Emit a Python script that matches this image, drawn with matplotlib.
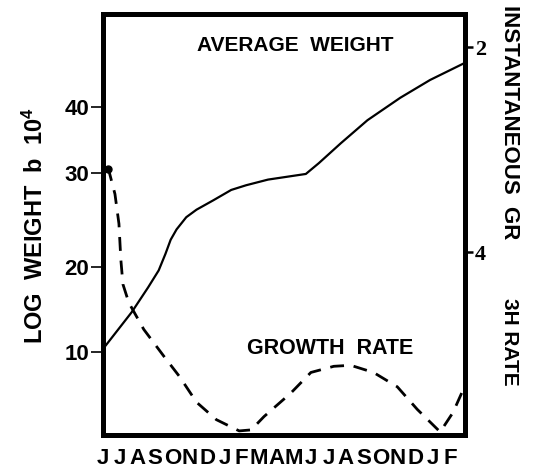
import matplotlib
matplotlib.use("Agg")
import matplotlib.pyplot as plt
import numpy as np

plt.rcParams['font.family'] = ['Liberation Sans', 'DejaVu Sans']
plt.rcParams['font.weight'] = 'bold'
plt.rcParams['mathtext.fontset'] = 'custom'
plt.rcParams['mathtext.bf'] = 'Liberation Sans:bold'
plt.rcParams['mathtext.rm'] = 'Liberation Sans:bold'

# months Jun .. Feb (21 months)
months = list("JJASONDJFMAMJJASONDJF")

# average weight (x10^4), month index vs value
weight_t = [0.17, 1.66, 2.6, 3.21, 3.6, 3.9, 4.24, 4.8, 5.39, 6.36, 7.39,
            8.25, 9.51, 11.69, 12.44, 13.70, 15.24, 17.13, 18.85, 20.86]
weight_v = [10.8, 14.7, 17.6, 19.6, 21.4, 22.9, 24.0, 25.3, 26.1, 27.1, 28.2,
            28.7, 29.3, 29.9, 31.5, 34.5, 38.0, 41.4, 44.1, 46.7]

# instantaneous growth rate
rate_t = [0.29, 0.69, 0.92, 1.03, 1.15, 1.49, 2.35, 3.50, 4.41, 5.39, 6.53,
          7.85, 8.54, 9.28, 10.83, 11.98, 13.30, 14.27, 15.59, 16.96, 18.11,
          19.43, 20.17, 20.75]
rate_v = [3.17, 3.43, 3.72, 4.07, 4.31, 4.49, 4.75, 5.01, 5.21, 5.46, 5.63,
          5.74, 5.73, 5.60, 5.37, 5.17, 5.11, 5.10, 5.17, 5.31, 5.53,
          5.75, 5.56, 5.34]

weight_ticks = [10, 20, 30, 40]
rate_ticks = [2, 4]

# hand drawn weight axis is not evenly spaced: piecewise scale
scale_w = [0, 10, 20, 30, 40, 60]
scale_p = [-2, 83, 168, 262, 328, 460]

def fwd(w):
    return np.interp(w, scale_w, scale_p)

def inv(p):
    return np.interp(p, scale_p, scale_w)

fig = plt.figure(figsize=(5.33, 4.71), dpi=100)
ax = fig.add_axes([0.1932, 0.0764, 0.6792, 0.8949])
ax.set_yscale('function', functions=(fwd, inv))
ax.set_ylim(inv(0), inv(421.5))
ax.set_xlim(0.115, 20.86)

ax.plot(weight_t, weight_v, color='black', lw=1.6)

for s in ax.spines.values():
    s.set_linewidth(3.6)

ax.set_yticks(weight_ticks)
ax.set_yticklabels([str(v) for v in weight_ticks], fontsize=16, fontweight='bold')
ax.tick_params(axis='y', direction='out', length=9, width=1.2, pad=1)
ax.yaxis.set_minor_locator(matplotlib.ticker.NullLocator())
ax.set_xticks(range(len(months)))
ax.set_xticklabels(months, fontsize=16, fontweight='bold')
ax.tick_params(axis='x', length=0, pad=9)

ax2 = ax.twinx()
ax2.set_ylim(5.78, 1.67)
ax2.plot(rate_t, rate_v, color='black', lw=2.0, dashes=(5, 3.5))
ax2.plot(rate_t[0], rate_v[0] + 0.02, 'o', color='black', ms=5, clip_on=False)
ax2.set_yticks(rate_ticks)
ax2.set_yticklabels([str(v) for v in rate_ticks], fontsize=16,
                    fontweight='bold', family='Liberation Serif')
ax2.tick_params(axis='y', direction='out', length=6, width=1.8, pad=1)
for s in ax2.spines.values():
    s.set_linewidth(3.6)

ax.text(0.53, 0.925, 'AVERAGE  WEIGHT', transform=ax.transAxes,
        ha='center', va='center', fontsize=15, fontweight='bold')
ax.text(0.627, 0.206, 'GROWTH  RATE', transform=ax.transAxes,
        ha='center', va='center', fontsize=15.5, fontweight='bold')

fig.text(35 / 533, 1 - 225 / 471, r'LOG  WEIGHT  b  $\mathbf{10^{4}}$',
         rotation=90, ha='center', va='center', fontsize=17, fontweight='bold')
fig.text(510 / 533, 1 - 5 / 471, 'INSTANTANEOUS  GR', rotation=270,
         ha='center', va='top', fontsize=16, fontweight='bold')
fig.text(510 / 533, 1 - 298 / 471, '3H RATE', rotation=270,
         ha='center', va='top', fontsize=15, fontweight='bold')

fig.savefig('out.png', dpi=100)
